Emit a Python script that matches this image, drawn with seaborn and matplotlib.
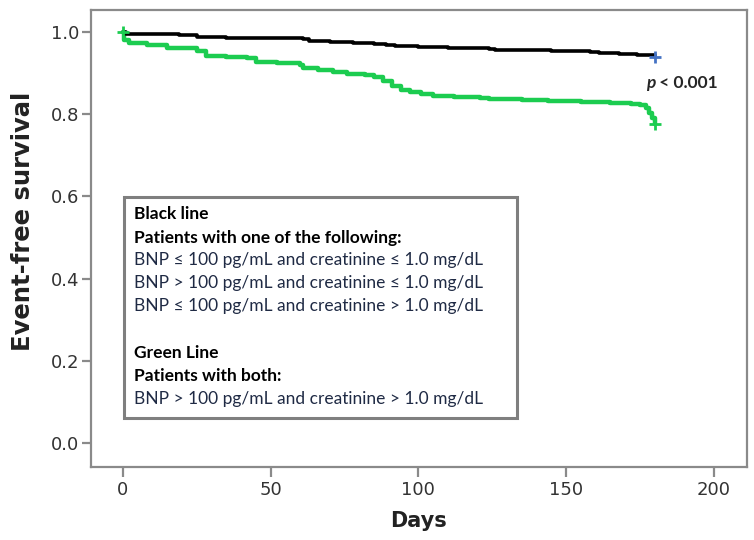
import matplotlib
matplotlib.use("Agg")
import matplotlib.pyplot as plt
import seaborn as sns
import pandas as pd
from matplotlib.patches import Rectangle

# Black line (one of the three BNP/creatinine combinations)
black_days = [0, 1, 8, 14, 19, 25, 35, 48, 61, 63, 70, 78, 85, 89, 92, 100, 110,
              118, 124, 126, 135, 145, 152, 158, 161, 168, 174, 180]
black_surv = [1.0, 0.996, 0.995, 0.994, 0.992, 0.987, 0.986, 0.985, 0.983, 0.979,
              0.976, 0.973, 0.970, 0.968, 0.965, 0.963, 0.962, 0.960, 0.958, 0.956,
              0.955, 0.954, 0.953, 0.951, 0.948, 0.946, 0.943, 0.940]

# Green line (BNP > 100 and creatinine > 1.0)
green_days = [0, 0.5, 2, 8, 15, 25, 28, 35, 42, 45, 52, 60, 61, 66, 71, 76, 82, 85,
              88, 91, 94, 97, 101, 105, 112, 121, 124, 135, 144, 155, 165, 172, 175,
              177, 178, 179, 180]
green_surv = [1.0, 0.98, 0.973, 0.968, 0.962, 0.954, 0.942, 0.939, 0.936, 0.928,
              0.925, 0.920, 0.912, 0.908, 0.902, 0.899, 0.896, 0.890, 0.880, 0.868,
              0.860, 0.853, 0.849, 0.845, 0.842, 0.840, 0.837, 0.835, 0.833, 0.830,
              0.827, 0.825, 0.822, 0.815, 0.804, 0.790, 0.776]

x_ticks = [0, 50, 100, 150, 200]
y_ticks = [0.0, 0.2, 0.4, 0.6, 0.8, 1.0]

sns.set_style("white")
plt.rcParams['font.family'] = ['DejaVu Sans']

fig = plt.figure(figsize=(7.54, 5.40), dpi=100)
ax = fig.add_axes([91/754, 1-467/540, (747-91)/754, (467-10)/540])

df_b = pd.DataFrame({"Days": black_days, "Surv": black_surv})
df_g = pd.DataFrame({"Days": green_days, "Surv": green_surv})

green = "#1ccc50"
sns.lineplot(data=df_g, x="Days", y="Surv", ax=ax, color=green, linewidth=3.2,
             drawstyle="steps-post", estimator=None, sort=False)
sns.lineplot(data=df_b, x="Days", y="Surv", ax=ax, color="black", linewidth=2.6,
             drawstyle="steps-post", estimator=None, sort=False)

# censor marks
sns.scatterplot(x=[black_days[-1]], y=[black_surv[-1]], ax=ax, marker="+", s=70,
                color="#4472c4", linewidth=2, zorder=5)
sns.scatterplot(x=[green_days[-1]], y=[green_surv[-1]], ax=ax, marker="+", s=70,
                color=green, linewidth=2, zorder=5)
sns.scatterplot(x=[0], y=[1.0], ax=ax, marker="+", s=70,
                color=green, linewidth=2, zorder=5)

ax.set_xlim(-10.8, 211.2)
ax.set_ylim(-0.058, 1.0535)
ax.set_xticks(x_ticks)
ax.set_yticks(y_ticks)
ax.set_xticklabels([str(t) for t in x_ticks])
ax.set_yticklabels([f"{t:.1f}" for t in y_ticks])

frame = "#8a8a8a"
for s in ax.spines.values():
    s.set_color(frame)
    s.set_linewidth(1.6)
ax.tick_params(axis="both", direction="out", colors=frame, labelcolor="#333333",
               labelsize=13, width=1.6)
ax.tick_params(axis="x", length=7, pad=3, bottom=True)
ax.tick_params(axis="y", length=6.5, pad=2, left=True)

ax.set_xlabel("Days", fontsize=15, fontweight="bold", color="#222222", labelpad=9)
ax.set_ylabel("Event-free survival", fontsize=17.5, fontweight="bold", color="#222222")
ax.yaxis.set_label_coords(-(91 - 35) / 656, (467 - 221) / 457)

# p-value
fig.text(646/754, 1-83/540, "p", fontsize=12.5, fontweight="bold", style="italic",
         family="Lato", va="center", ha="left")
fig.text(655/754, 1-83/540, " < 0.001", fontsize=12.5, fontweight="bold",
         family="Lato", va="center", ha="left")

# legend box
box = Rectangle((124/754, 1-418/540), (517-124)/754, (418-197)/540, transform=fig.transFigure,
                facecolor="white", edgecolor="#7f7f7f", linewidth=2.2, zorder=3)
fig.patches.append(box)

lines = [
    ("Black line", True, 214),
    ("Patients with one of the following:", True, 238),
    ("BNP ≤ 100 pg/mL and creatinine ≤ 1.0 mg/dL", False, 260),
    ("BNP > 100 pg/mL and creatinine ≤ 1.0 mg/dL", False, 283),
    ("BNP ≤ 100 pg/mL and creatinine > 1.0 mg/dL", False, 306),
    ("Green Line", True, 353),
    ("Patients with both:", True, 376),
    ("BNP > 100 pg/mL and creatinine > 1.0 mg/dL", False, 399),
]
for txt, bold, y in lines:
    fig.text(134/754, 1-y/540, txt, fontsize=12.5, family="Lato",
             fontweight="bold" if bold else "normal",
             color="black" if bold else "#1f2a44", va="center", ha="left", zorder=4)

fig.savefig("out.png", dpi=100)
